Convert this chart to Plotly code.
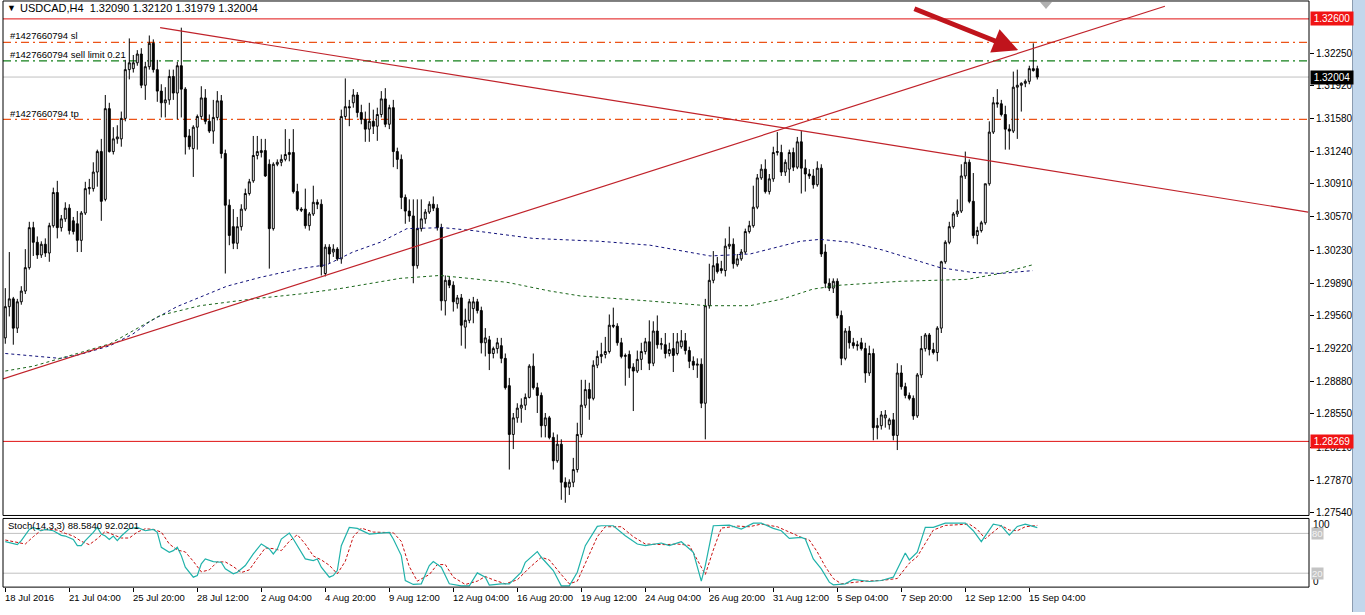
import plotly.graph_objects as go

FIG_W, FIG_H = 1365, 615
FONT = "Liberation Sans, Arial, sans-serif"

# ---------------- data ----------------
bar_open = [
    1.2933, 1.2965, 1.2973, 1.2943, 1.2970, 1.2981, 1.3005, 1.3046, 1.3031, 1.3018,
    1.3029, 1.3020, 1.3048, 1.3082, 1.3046, 1.3055, 1.3066, 1.3053, 1.3050, 1.3033,
    1.3061, 1.3086, 1.3086, 1.3103, 1.3124, 1.3075, 1.3168, 1.3124, 1.3137, 1.3137,
    1.3158, 1.3208, 1.3209, 1.3215, 1.3224, 1.3192, 1.3211, 1.3235, 1.3208, 1.3186,
    1.3174, 1.3177, 1.3201, 1.3184, 1.3212, 1.3188, 1.3140, 1.3127, 1.3149, 1.3160,
    1.3179, 1.3155, 1.3145, 1.3159, 1.3176, 1.3122, 1.3069, 1.3047, 1.3030, 1.3047,
    1.3065, 1.3081, 1.3094, 1.3120, 1.3123, 1.3125, 1.3111, 1.3045, 1.3111, 1.3113,
    1.3116, 1.3121, 1.3123, 1.3083, 1.3065, 1.3065, 1.3048, 1.3060, 1.3072, 1.3070,
    1.2999, 1.3026, 1.3021, 1.3024, 1.3014, 1.3160, 1.3170, 1.3174, 1.3182, 1.3164,
    1.3157, 1.3147, 1.3155, 1.3150, 1.3162, 1.3178, 1.3152, 1.3169, 1.3124, 1.3116,
    1.3077, 1.3063, 1.3058, 1.3007, 1.3045, 1.3055, 1.3062, 1.3070, 1.3066, 1.3046,
    1.2971, 1.2992, 1.2987, 1.2968, 1.2974, 1.2944, 1.2951, 1.2963, 1.2970, 1.2961,
    1.2928, 1.2931, 1.2917, 1.2922, 1.2925, 1.2912, 1.2884, 1.2834, 1.2851, 1.2861,
    1.2864, 1.2872, 1.2904, 1.2882, 1.2874, 1.2843, 1.2851, 1.2831, 1.2807, 1.2824,
    1.2785, 1.2780, 1.2785, 1.2798, 1.2834, 1.2864, 1.2880, 1.2871, 1.2905, 1.2914,
    1.2916, 1.2919, 1.2946, 1.2945, 1.2928, 1.2914, 1.2916, 1.2903, 1.2899, 1.2911,
    1.2919, 1.2929, 1.2907, 1.2940, 1.2926, 1.2926, 1.2917, 1.2922, 1.2917, 1.2924,
    1.2930, 1.2920, 1.2909, 1.2905, 1.2906, 1.2866, 1.2966, 1.2992, 1.3009, 1.3004,
    1.3002, 1.3027, 1.3029, 1.3008, 1.3014, 1.3021, 1.3042, 1.3048, 1.3067, 1.3097,
    1.3106, 1.3083, 1.3096, 1.3123, 1.3123, 1.3103, 1.3106, 1.3123, 1.3108, 1.3134,
    1.3107, 1.3101, 1.3099, 1.3090, 1.3107, 1.3021, 1.2989, 1.2984, 1.2991, 1.2956,
    1.2912, 1.2940, 1.2928, 1.2926, 1.2928, 1.2922, 1.2897, 1.2917, 1.2841, 1.2843,
    1.2851, 1.2844, 1.2849, 1.2833, 1.2897, 1.2883, 1.2874, 1.2871, 1.2853, 1.2895,
    1.2922, 1.2936, 1.2921, 1.2918, 1.2943, 1.3011, 1.3031, 1.3047, 1.3060, 1.3063,
    1.3099, 1.3113, 1.3073, 1.3038, 1.3043, 1.3051, 1.3091, 1.3144, 1.3174, 1.3173,
    1.3162, 1.3147, 1.3145, 1.3190, 1.3192, 1.3194, 1.3196, 1.3209, 1.32090,
]
bar_high = [
    1.2984, 1.3021, 1.2975, 1.2973, 1.2986, 1.3024, 1.3052, 1.3052, 1.3037, 1.3032,
    1.3035, 1.3051, 1.3087, 1.3094, 1.3059, 1.3072, 1.3070, 1.3057, 1.3063, 1.3063,
    1.3093, 1.3096, 1.3113, 1.3126, 1.3137, 1.3182, 1.3174, 1.3149, 1.3151, 1.3165,
    1.3218, 1.3240, 1.3223, 1.3228, 1.3230, 1.3216, 1.3243, 1.3239, 1.3218, 1.3193,
    1.3190, 1.3208, 1.3208, 1.3216, 1.3251, 1.3190, 1.3147, 1.3151, 1.3162, 1.3191,
    1.3188, 1.3162, 1.3177, 1.3186, 1.3182, 1.3126, 1.3075, 1.3065, 1.3057, 1.3070,
    1.3086, 1.3096, 1.3140, 1.3140, 1.3137, 1.3137, 1.3116, 1.3113, 1.3116, 1.3121,
    1.3147, 1.3137, 1.3147, 1.3091, 1.3067, 1.3086, 1.3062, 1.3089, 1.3075, 1.3075,
    1.3029, 1.3029, 1.3029, 1.3026, 1.3167, 1.3199, 1.3177, 1.3188, 1.3185, 1.3172,
    1.3165, 1.3174, 1.3167, 1.3169, 1.3186, 1.3189, 1.3172, 1.3177, 1.3128, 1.3121,
    1.3080, 1.3075, 1.3075, 1.3075, 1.3075, 1.3065, 1.3073, 1.3078, 1.3070, 1.3050,
    1.2997, 1.2996, 1.2991, 1.2977, 1.2978, 1.2963, 1.2973, 1.2975, 1.2973, 1.2965,
    1.2943, 1.2935, 1.2924, 1.2933, 1.2933, 1.2917, 1.2892, 1.2856, 1.2866, 1.2871,
    1.2876, 1.2906, 1.2917, 1.2887, 1.2877, 1.2856, 1.2853, 1.2836, 1.2834, 1.2829,
    1.2790, 1.2788, 1.2810, 1.2846, 1.2890, 1.2890, 1.2887, 1.2910, 1.2920, 1.2928,
    1.2934, 1.2957, 1.2964, 1.2948, 1.2933, 1.2917, 1.2920, 1.2907, 1.2920, 1.2928,
    1.2933, 1.2951, 1.2950, 1.2956, 1.2933, 1.2938, 1.2928, 1.2938, 1.2938, 1.2941,
    1.2938, 1.2924, 1.2914, 1.2912, 1.2912, 1.2973, 1.3009, 1.3022, 1.3016, 1.3012,
    1.3035, 1.3047, 1.3035, 1.3019, 1.3024, 1.3045, 1.3053, 1.3089, 1.3101, 1.3111,
    1.3116, 1.3101, 1.3129, 1.3144, 1.3131, 1.3116, 1.3126, 1.3128, 1.3139, 1.3145,
    1.3116, 1.3106, 1.3106, 1.3114, 1.3111, 1.3029, 1.2994, 1.2994, 1.2994, 1.2961,
    1.2943, 1.2945, 1.2933, 1.2930, 1.2933, 1.2928, 1.2925, 1.2922, 1.2851, 1.2858,
    1.2859, 1.2851, 1.2856, 1.2907, 1.2905, 1.2887, 1.2877, 1.2874, 1.2897, 1.2935,
    1.2938, 1.2938, 1.2928, 1.2945, 1.3012, 1.3033, 1.3052, 1.3062, 1.3075, 1.3111,
    1.3124, 1.3116, 1.3102, 1.3047, 1.3053, 1.3091, 1.3155, 1.3180, 1.3188, 1.3177,
    1.3171, 1.3152, 1.3206, 1.3208, 1.3195, 1.3198, 1.3212, 1.3235, 1.32120,
]
bar_low = [
    1.2927, 1.2955, 1.2926, 1.2938, 1.2967, 1.2978, 1.3003, 1.3017, 1.3014, 1.3015,
    1.3016, 1.3011, 1.3046, 1.3035, 1.3042, 1.3052, 1.3039, 1.3039, 1.3021, 1.3021,
    1.3059, 1.3080, 1.3083, 1.3088, 1.3053, 1.3073, 1.3123, 1.3121, 1.3132, 1.3129,
    1.3155, 1.3198, 1.3205, 1.3212, 1.3189, 1.3177, 1.3208, 1.3205, 1.3175, 1.3159,
    1.3159, 1.3172, 1.3177, 1.3157, 1.3159, 1.3121, 1.3126, 1.3098, 1.3126, 1.3157,
    1.3152, 1.3143, 1.3132, 1.3156, 1.3117, 1.2999, 1.3028, 1.3024, 1.3024, 1.3043,
    1.3063, 1.3079, 1.3092, 1.3116, 1.3118, 1.3098, 1.3004, 1.3043, 1.3109, 1.3109,
    1.3114, 1.3114, 1.3081, 1.3063, 1.3062, 1.3045, 1.3043, 1.3058, 1.3065, 1.2997,
    1.2996, 1.3009, 1.3016, 1.3012, 1.3009, 1.3157, 1.3150, 1.3169, 1.3159, 1.3152,
    1.3134, 1.3134, 1.3142, 1.3135, 1.3159, 1.3149, 1.3147, 1.3108, 1.3106, 1.3065,
    1.3050, 1.3052, 1.2989, 1.3004, 1.3042, 1.3050, 1.3060, 1.3063, 1.3043, 1.2961,
    1.2956, 1.2984, 1.2960, 1.2963, 1.2925, 1.2922, 1.2948, 1.2948, 1.2958, 1.2917,
    1.2914, 1.2900, 1.2912, 1.2917, 1.2907, 1.2880, 1.2798, 1.2819, 1.2846, 1.2846,
    1.2859, 1.2871, 1.2880, 1.2856, 1.2831, 1.2831, 1.2829, 1.2798, 1.2805, 1.2767,
    1.2764, 1.2772, 1.2780, 1.2795, 1.2831, 1.2861, 1.2849, 1.2869, 1.2902, 1.2907,
    1.2912, 1.2917, 1.2943, 1.2925, 1.2912, 1.2884, 1.2892, 1.2858, 1.2897, 1.2900,
    1.2916, 1.2900, 1.2904, 1.2922, 1.2921, 1.2912, 1.2914, 1.2898, 1.2915, 1.2922,
    1.2916, 1.2902, 1.2900, 1.2892, 1.2861, 1.2829, 1.2963, 1.2989, 1.2999, 1.2999,
    1.2996, 1.3024, 1.3004, 1.3006, 1.3012, 1.3019, 1.3040, 1.3046, 1.3065, 1.3095,
    1.3081, 1.3080, 1.3093, 1.3120, 1.3099, 1.3099, 1.3092, 1.3104, 1.3106, 1.3081,
    1.3083, 1.3096, 1.3086, 1.3088, 1.3016, 1.2984, 1.2981, 1.2979, 1.2953, 1.2905,
    1.2910, 1.2922, 1.2922, 1.2920, 1.2920, 1.2887, 1.2894, 1.2828, 1.2829, 1.2839,
    1.2841, 1.2839, 1.2828, 1.2818, 1.2880, 1.2871, 1.2869, 1.2849, 1.2851, 1.2892,
    1.2919, 1.2915, 1.2916, 1.2909, 1.2938, 1.3009, 1.3029, 1.3045, 1.3057, 1.3061,
    1.3096, 1.3071, 1.3035, 1.3029, 1.3041, 1.3049, 1.3089, 1.3142, 1.3169, 1.3160,
    1.3126, 1.3126, 1.3143, 1.3137, 1.3165, 1.3190, 1.3193, 1.3206, 1.31979,
]
bar_close = [
    1.2965, 1.2973, 1.2943, 1.2970, 1.2981, 1.3005, 1.3046, 1.3031, 1.3018, 1.3029,
    1.3020, 1.3048, 1.3082, 1.3046, 1.3055, 1.3066, 1.3043, 1.3042, 1.3033, 1.3061,
    1.3086, 1.3087, 1.3103, 1.3124, 1.3073, 1.3168, 1.3124, 1.3137, 1.3139, 1.3158,
    1.3208, 1.3215, 1.3215, 1.3224, 1.3192, 1.3211, 1.3235, 1.3208, 1.3186, 1.3174,
    1.3177, 1.3201, 1.3184, 1.3212, 1.3188, 1.3139, 1.3129, 1.3149, 1.3160, 1.3179,
    1.3155, 1.3145, 1.3159, 1.3176, 1.3122, 1.3069, 1.3038, 1.3030, 1.3047, 1.3065,
    1.3081, 1.3093, 1.3120, 1.3124, 1.3125, 1.3099, 1.3045, 1.3111, 1.3113, 1.3116,
    1.3121, 1.3123, 1.3083, 1.3065, 1.3064, 1.3048, 1.3060, 1.3072, 1.3070, 1.3006,
    1.3026, 1.3019, 1.3024, 1.3014, 1.3160, 1.3170, 1.3169, 1.3182, 1.3164, 1.3157,
    1.3147, 1.3155, 1.3150, 1.3162, 1.3178, 1.3152, 1.3169, 1.3124, 1.3116, 1.3077,
    1.3063, 1.3058, 1.3007, 1.3045, 1.3055, 1.3062, 1.3070, 1.3066, 1.3046, 1.2971,
    1.2992, 1.2987, 1.2970, 1.2974, 1.2946, 1.2951, 1.2970, 1.2970, 1.2961, 1.2928,
    1.2933, 1.2917, 1.2922, 1.2928, 1.2912, 1.2882, 1.2834, 1.2851, 1.2861, 1.2864,
    1.2872, 1.2904, 1.2882, 1.2874, 1.2843, 1.2851, 1.2831, 1.2807, 1.2824, 1.2785,
    1.2780, 1.2785, 1.2798, 1.2834, 1.2864, 1.2880, 1.2871, 1.2905, 1.2914, 1.2916,
    1.2919, 1.2946, 1.2945, 1.2928, 1.2914, 1.2915, 1.2902, 1.2899, 1.2911, 1.2919,
    1.2929, 1.2907, 1.2940, 1.2926, 1.2927, 1.2917, 1.2921, 1.2915, 1.2929, 1.2930,
    1.2920, 1.2909, 1.2905, 1.2906, 1.2866, 1.2966, 1.2992, 1.3007, 1.3001, 1.3002,
    1.3027, 1.3029, 1.3009, 1.3014, 1.3021, 1.3042, 1.3048, 1.3067, 1.3097, 1.3106,
    1.3083, 1.3096, 1.3123, 1.3124, 1.3103, 1.3113, 1.3123, 1.3108, 1.3134, 1.3107,
    1.3101, 1.3099, 1.3090, 1.3107, 1.3019, 1.2989, 1.2984, 1.2991, 1.2956, 1.2912,
    1.2940, 1.2928, 1.2925, 1.2925, 1.2922, 1.2897, 1.2917, 1.2841, 1.2843, 1.2854,
    1.2854, 1.2849, 1.2833, 1.2897, 1.2883, 1.2874, 1.2871, 1.2853, 1.2895, 1.2922,
    1.2936, 1.2921, 1.2918, 1.2943, 1.3011, 1.3031, 1.3047, 1.3060, 1.3063, 1.3099,
    1.3113, 1.3073, 1.3038, 1.3043, 1.3051, 1.3091, 1.3144, 1.3174, 1.3173, 1.3162,
    1.3147, 1.3145, 1.3190, 1.3192, 1.3194, 1.3196, 1.3209, 1.3207, 1.32004,
]
bar_index = list(range(len(bar_close)))

time_tick_bars = [0, 16, 32, 48, 64, 80, 96, 112, 128, 144, 160, 176, 192, 208, 224, 240, 256]
time_tick_labels = ["18 Jul 2016", "21 Jul 04:00", "25 Jul 20:00", "28 Jul 12:00", "2 Aug 04:00",
                    "4 Aug 20:00", "9 Aug 12:00", "12 Aug 04:00", "16 Aug 20:00", "19 Aug 12:00",
                    "24 Aug 04:00", "26 Aug 20:00", "31 Aug 12:00", "5 Sep 04:00", "7 Sep 20:00",
                    "12 Sep 12:00", "15 Sep 04:00"]

price_tick_values = [1.32250, 1.31920, 1.31580, 1.31240, 1.30910, 1.30570, 1.30230, 1.29890,
                     1.29560, 1.29220, 1.28880, 1.28550, 1.28210, 1.27870, 1.27540]

level_resistance = 1.32600
level_support = 1.28269
level_sl = 1.3236
level_sell_limit = 1.3217
level_tp = 1.3157
last_price = 1.32004
header_ohlc = ["1.32090", "1.32120", "1.31979", "1.32004"]

desc_trend_bars = [38.7, 325.7]
desc_trend_prices = [1.3251, 1.3062]
asc_trend_bars = [-0.6, 289.9]
asc_trend_prices = [1.2891, 1.3273]

ma_navy_bars = [0, 13.7, 18.7, 26.2, 31.9, 36.2, 42.9, 48.7, 55.4, 63.7, 73.7, 80.4, 86.9, 93.7, 100.4,
                109.4, 116.9, 131.9, 148.7, 161.2, 176.2, 186.2, 198.7, 203.7, 211.2, 219.4, 227.9,
                233.7, 241.9, 248.7, 256.9]
ma_navy_values = [1.2917, 1.2912, 1.2916, 1.2925, 1.2937, 1.2950, 1.2965, 1.2975, 1.2986, 1.2995, 1.3004,
                  1.3008, 1.3021, 1.3031, 1.3045, 1.3046, 1.3043, 1.3035, 1.3032, 1.3028, 1.3017, 1.3019,
                  1.3032, 1.3034, 1.3031, 1.3023, 1.3012, 1.3005, 1.3000, 1.2999, 1.3002]
ma_green_bars = [0, 7, 18, 26.2, 38.7, 48.7, 62, 73.7, 84.4, 93.7, 98.7, 108.7, 125.4, 136.2, 143.7,
                 160.4, 175.4, 186.2, 194.4, 201.9, 208.7, 223.7, 240.4, 248.7, 256.9]
ma_green_values = [1.2899, 1.2904, 1.2917, 1.2927, 1.2956, 1.2966, 1.2973, 1.2978, 1.2984, 1.2991, 1.2994,
                   1.2997, 1.2990, 1.2981, 1.2976, 1.2971, 1.2966, 1.2966, 1.2973, 1.2983, 1.2987, 1.2991,
                   1.2993, 1.2999, 1.3008]

stoch_k_bars = [0, 2, 3, 4, 6, 7, 9, 10, 12, 14, 15, 17, 18, 19, 20, 22, 23, 24, 25, 26, 27, 28, 29, 31, 33,
                35, 37, 38, 39, 41, 42, 43, 44, 45, 47, 48, 49, 50, 52, 54, 55, 57, 58, 60, 62, 64, 66, 67,
                68, 69, 71, 72, 74, 75, 77, 78, 79, 81, 82, 83, 84, 86, 88, 91, 96, 97, 99, 100, 102, 104,
                106, 107, 109, 111, 114, 116, 118, 120, 121, 124, 126, 129, 130, 133, 134, 137, 139, 141,
                143, 145, 148, 149, 152, 155, 158, 160, 164, 166, 169, 172, 174, 175, 177, 179, 181, 184,
                187, 189, 192, 194, 196, 199, 200, 202, 204, 206, 207, 210, 212, 216, 219, 222, 225, 226,
                228, 230, 232, 235, 240, 242, 244, 247, 249, 251, 253, 255, 258]
stoch_k_values = [67.5, 65, 63, 69, 86, 89, 84, 86, 84, 77, 76, 71, 61.5, 61.5, 69, 81.5, 89, 79, 76, 71, 76,
                  69, 76, 87, 89, 84, 86, 81.5, 59, 51.5, 54, 59, 46.5, 29, 14, 16.5, 34, 41.5, 37.5, 36.5,
                  26.5, 19, 21.5, 31.5, 49, 64, 56.5, 49, 56.5, 71.5, 80.5, 71.5, 51.5, 41.5, 39, 41.5, 29,
                  14, 16.5, 24, 61.5, 89, 87.5, 79, 81.5, 71.5, 46.5, 9, 3, 4, 31.5, 37.5, 29, 4, 1, 1, 20.5,
                  14, 2, 4, 4, 21.5, 36.5, 52.5, 44, 24, 1, 1, 21.5, 61.5, 90.5, 91.5, 91.5, 76.5, 64, 61.5,
                  65.5, 61.5, 67.5, 51.5, 8, 31.5, 91.5, 91.5, 92.5, 86.5, 95.5, 95.5, 87.5, 84, 72.5, 74,
                  71.5, 41.5, 26.5, 6.5, 2.5, 4, 10.5, 7.5, 9, 14, 50.5, 40, 51.5, 89, 89, 95.5, 95.5, 84,
                  67.5, 94, 91.5, 77.5, 90.5, 94, 88.584]
stoch_d_bars = [0, 3, 5, 7, 9, 11, 13, 15, 17, 19, 21, 23, 25, 27, 29, 31, 33, 35, 37, 39, 41, 43, 45, 47,
                49, 51, 53, 55, 57, 59, 61, 63, 65, 67, 69, 71, 73, 75, 77, 79, 81, 83, 85, 87, 89, 92, 97,
                99, 101, 103, 106, 108, 110, 112, 115, 118, 120, 122, 125, 128, 131, 134, 136, 139, 141,
                143, 145, 148, 150, 154, 157, 160, 165, 168, 171, 173, 175, 177, 179, 183, 186, 189, 193,
                196, 199, 201, 203, 205, 207, 209, 212, 215, 219, 223, 226, 228, 230, 232, 235, 241, 243,
                245, 247, 249, 251, 253, 255, 258]
stoch_d_values = [70, 66, 64, 75, 85, 86, 85, 80, 76, 68, 63, 72, 83, 78, 73, 73, 82, 87, 86, 82, 64, 55, 52,
                  38, 22, 25, 37, 37, 30, 21, 25, 42, 58, 57, 54, 68, 78, 64, 46, 40, 32, 19, 38, 75, 88,
                  82, 81, 68, 30, 8, 18, 33, 33, 14, 3, 8, 15, 10, 4, 10, 28, 44, 40, 18, 4, 8, 35, 75, 90,
                  90, 75, 64, 63, 64, 62, 40, 18, 55, 88, 91, 90, 94, 90, 82, 74, 70, 52, 30, 12, 4, 6, 8,
                  9, 12, 35, 45, 65, 85, 92, 94, 86, 72, 82, 92, 85, 84, 90, 92.0201]
stoch_levels = [80, 20]
stoch_title = "Stoch(14,3,3) 88.5840 92.0201"

arrow_tail_bar, arrow_tail_price = 226.9, 1.3271
arrow_tip_bar, arrow_tip_price = 253.2, 1.3228

# ---------------- layout geometry (pixels) ----------------
PLOT_L, PLOT_R = 3, 1309
MAIN_T, MAIN_B = 1, 518
STO_T, STO_B = 521, 590
BAR0_PX, BAR_PX = 5.3, 4.0
PRICE_REF_PX = (19, 515)      # pixel rows of 1.32600 and 1.27540
PRICE_REF_VAL = (1.32600, 1.27540)


def px(x):
    return x / FIG_W


def py(y):
    return 1 - y / FIG_H


def price_at(ypix):
    (y1, y2), (p1, p2) = PRICE_REF_PX, PRICE_REF_VAL
    return p1 + (ypix - y1) * (p2 - p1) / (y2 - y1)


def stoch_at(ypix):
    return 20 + (576 - ypix) * 60 / 40


x_range = [-(BAR0_PX - PLOT_L) / BAR_PX, (PLOT_R - BAR0_PX) / BAR_PX]

fig = go.Figure()

fig.add_trace(go.Candlestick(
    x=bar_index, open=bar_open, high=bar_high, low=bar_low, close=bar_close,
    increasing=dict(line=dict(color="black", width=1), fillcolor="white"),
    decreasing=dict(line=dict(color="black", width=1), fillcolor="black"),
    whiskerwidth=0, xaxis="x", yaxis="y", hoverinfo="skip", showlegend=False))

fig.add_trace(go.Scatter(x=ma_navy_bars, y=ma_navy_values, mode="lines",
                         line=dict(color="#10107a", width=1, dash="3px,3px"),
                         xaxis="x", yaxis="y", hoverinfo="skip", showlegend=False))
fig.add_trace(go.Scatter(x=ma_green_bars, y=ma_green_values, mode="lines",
                         line=dict(color="#1a661a", width=1, dash="3px,3px"),
                         xaxis="x", yaxis="y", hoverinfo="skip", showlegend=False))
fig.add_trace(go.Scatter(x=desc_trend_bars, y=desc_trend_prices, mode="lines",
                         line=dict(color="#c0222a", width=1.2),
                         xaxis="x", yaxis="y", hoverinfo="skip", showlegend=False))
fig.add_trace(go.Scatter(x=asc_trend_bars, y=asc_trend_prices, mode="lines",
                         line=dict(color="#c0222a", width=1.2),
                         xaxis="x", yaxis="y", hoverinfo="skip", showlegend=False))

fig.add_trace(go.Scatter(x=stoch_d_bars, y=stoch_d_values, mode="lines",
                         line=dict(color="#c81010", width=1, dash="3px,2px"),
                         xaxis="x2", yaxis="y2", hoverinfo="skip", showlegend=False))
fig.add_trace(go.Scatter(x=stoch_k_bars, y=stoch_k_values, mode="lines",
                         line=dict(color="#20b2aa", width=1.2),
                         xaxis="x2", yaxis="y2", hoverinfo="skip", showlegend=False))

shapes = []
# horizontal levels
for lvl, col, dash, w in [
    (level_resistance, "#e01010", "solid", 1),
    (level_support, "#e01010", "solid", 1),
    (last_price, "#c0c0c0", "solid", 1),
    (level_sl, "#ec5418", "8px,4px,2px,4px", 1.2),
    (level_tp, "#ec5418", "8px,4px,2px,4px", 1.2),
    (level_sell_limit, "#13801a", "8px,4px,2px,4px", 1.2),
]:
    shapes.append(dict(type="line", xref="x domain", yref="y", x0=0, x1=1, y0=lvl, y1=lvl,
                       line=dict(color=col, width=w, dash=dash), layer="below"))
for lvl in stoch_levels:
    shapes.append(dict(type="line", xref="x2 domain", yref="y2", x0=0, x1=1, y0=lvl, y1=lvl,
                       line=dict(color="#c0c0c0", width=1), layer="below"))
# panel frames
for (t, b) in [(MAIN_T, MAIN_B), (STO_T, STO_B)]:
    shapes.append(dict(type="rect", xref="paper", yref="paper", x0=px(PLOT_L), x1=px(PLOT_R),
                       y0=py(b), y1=py(t), line=dict(color="black", width=1), fillcolor="rgba(0,0,0,0)"))
# scrollbar strip at the right
shapes.append(dict(type="rect", xref="paper", yref="paper", x0=px(1352), x1=1, y0=0, y1=1,
                   line=dict(width=0), fillcolor="#c3d7ec"))
shapes.append(dict(type="line", xref="paper", yref="paper", x0=px(1352.5), x1=px(1352.5), y0=0, y1=1,
                   line=dict(color="#8c9cb0", width=1)))
# chart-shift marker
shapes.append(dict(type="path", xref="paper", yref="paper",
                   path=f"M {px(1040)},{py(2)} L {px(1052)},{py(2)} L {px(1046)},{py(9)} Z",
                   fillcolor="#b0b0b0", line=dict(width=0)))

annotations = []
base_font = dict(family=FONT, size=10, color="black")
# header
annotations.append(dict(xref="paper", yref="paper", x=px(5), y=py(8), xanchor="left", yanchor="middle",
                        text="▼", showarrow=False, font=dict(family=FONT, size=9, color="black")))
annotations.append(dict(xref="paper", yref="paper", x=px(18), y=py(8), xanchor="left", yanchor="middle",
                        text="USDCAD,H4  " + " ".join(header_ohlc), showarrow=False,
                        font=dict(family=FONT, size=11, color="black")))
# order labels
for lbl, ypix in [("#1427660794 sl", 36), ("#1427660794 sell limit 0.21", 55), ("#1427660794 tp", 114)]:
    annotations.append(dict(xref="paper", yref="paper", x=px(8), y=py(ypix), xanchor="left",
                            yanchor="middle", text=lbl, showarrow=False,
                            font=dict(family=FONT, size=9.5, color="black")))
# price boxes on the axis
for val, bg in [(level_resistance, "#f01414"), (level_support, "#f01414"), (last_price, "#000000")]:
    annotations.append(dict(xref="paper", yref="y", x=px(1310), y=val, xanchor="left", yanchor="middle",
                            text=f"{val:.5f}", showarrow=False, bgcolor=bg, borderpad=1, width=40,
                            font=dict(family=FONT, size=10, color="white")))
# stochastic panel labels
annotations.append(dict(xref="paper", yref="paper", x=px(6), y=py(528), xanchor="left", yanchor="middle",
                        text=stoch_title, showarrow=False, font=dict(family=FONT, size=9.5, color="black")))
for txt, ypix in [("100", 527), ("0", 584)]:
    annotations.append(dict(xref="paper", yref="paper", x=px(1311), y=py(ypix), xanchor="left",
                            yanchor="middle", text=txt, showarrow=False, font=base_font))
for lvl in stoch_levels:
    annotations.append(dict(xref="paper", yref="y2", x=px(1311), y=lvl, xanchor="left", yanchor="middle",
                            text=str(lvl), showarrow=False, bgcolor="#c4c4c4", borderpad=0,
                            font=dict(family=FONT, size=9.5, color="#f4f4f4")))
# time labels
for b, lbl in zip(time_tick_bars, time_tick_labels):
    annotations.append(dict(xref="x2", yref="paper", x=b, y=py(600), xanchor="left", yanchor="middle",
                            xshift=-2, text=lbl, showarrow=False,
                            font=dict(family=FONT, size=9.5, color="black")))
# arrow
annotations.append(dict(xref="x", yref="y", x=arrow_tip_bar, y=arrow_tip_price,
                        axref="x", ayref="y", ax=arrow_tail_bar, ay=arrow_tail_price,
                        text="", showarrow=True, arrowhead=2, arrowsize=1, arrowwidth=5,
                        arrowcolor="#c0141c", standoff=0))

fig.update_layout(
    width=FIG_W, height=FIG_H,
    margin=dict(l=0, r=0, t=0, b=0),
    paper_bgcolor="white", plot_bgcolor="white",
    showlegend=False,
    shapes=shapes, annotations=annotations,
    xaxis=dict(domain=[px(PLOT_L), px(PLOT_R)], range=x_range, anchor="y",
               showgrid=False, zeroline=False, showticklabels=False, ticks="",
               rangeslider=dict(visible=False), fixedrange=True),
    yaxis=dict(domain=[py(MAIN_B), py(MAIN_T)], range=[price_at(MAIN_B), price_at(MAIN_T)],
               anchor="x", side="right", showgrid=False, zeroline=False,
               tickvals=price_tick_values, ticktext=[f"{v:.5f}" for v in price_tick_values],
               ticks="outside", ticklen=4, tickcolor="black", tickwidth=1,
               tickfont=dict(family=FONT, size=10, color="black"), fixedrange=True),
    xaxis2=dict(domain=[px(PLOT_L), px(PLOT_R)], range=x_range, anchor="y2",
                showgrid=False, zeroline=False, showticklabels=False,
                tickvals=time_tick_bars, ticks="outside", ticklen=4, tickcolor="black", fixedrange=True),
    yaxis2=dict(domain=[py(STO_B), py(STO_T)], range=[stoch_at(STO_B), stoch_at(STO_T)], anchor="x2",
                showgrid=False, zeroline=False, showticklabels=False, ticks="", fixedrange=True),
)

fig.write_html("out.html", include_plotlyjs=True, config={"displayModeBar": False})
